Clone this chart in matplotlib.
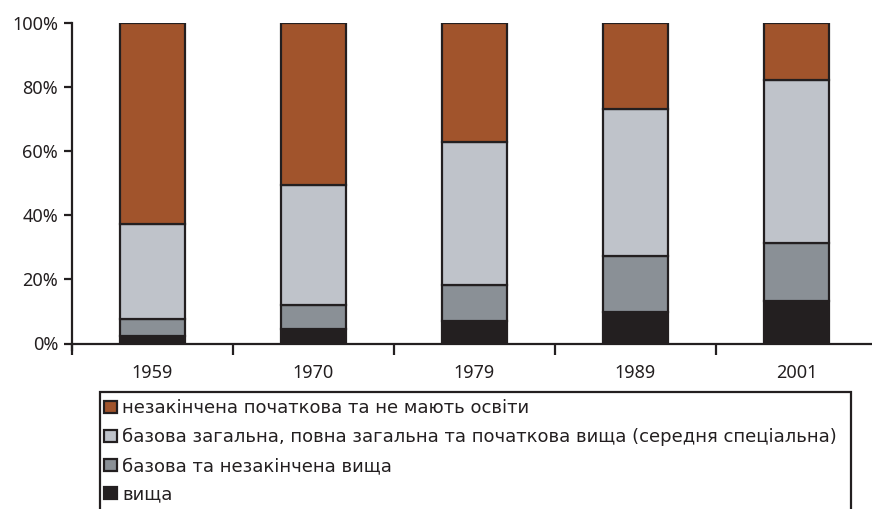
import matplotlib
matplotlib.use("Agg")
import matplotlib.pyplot as plt
import numpy as np
from matplotlib.patches import Rectangle
from matplotlib.ticker import FuncFormatter

plt.rcParams['font.family'] = ['Noto Sans', 'DejaVu Sans']

# Дані (частки, %)
roky = ['1959', '1970', '1979', '1989', '2001']
vyshcha = [2.3, 4.4, 6.9, 9.9, 13.2]
bazova_nezak_vyshcha = [5.4, 7.7, 11.5, 17.5, 18.2]
bazova_zagalna = [29.7, 37.4, 44.6, 45.7, 50.8]
nezak_pochatkova = [62.6, 50.5, 37.0, 26.9, 17.8]

nazvy = ['вища',
         'базова та незакінчена вища',
         'базова загальна, повна загальна та початкова вища (середня спеціальна)',
         'незакінчена початкова та не мають освіти']
kolory = ['#231F20', '#8A9096', '#BFC3CA', '#A1542C']
kraj = '#231F20'

fig = plt.figure(figsize=(8.72, 5.09), dpi=100)
ax = fig.add_axes([72 / 872, 1 - 343.5 / 509, 1 - 72 / 872, 320.5 / 509])

x = np.arange(len(roky))
niz = np.zeros(len(roky))
stovpci = []
for dani, kolir, nazva in zip([vyshcha, bazova_nezak_vyshcha, bazova_zagalna, nezak_pochatkova], kolory, nazvy):
    b = ax.bar(x, dani, 0.4, bottom=niz, color=kolir, edgecolor=kraj, linewidth=1.6, label=nazva, zorder=2)
    stovpci.append(b)
    niz += np.array(dani)

ax.set_xlim(-0.5, -0.5 + 800 / 161)
ax.set_ylim(0, 100)
ax.set_yticks([0, 20, 40, 60, 80, 100])
ax.yaxis.set_major_formatter(FuncFormatter(lambda v, p: f"{v:.0f}%"))
ax.set_xticks(x)
ax.set_xticklabels(roky)
ax.set_xticks(np.arange(-0.5, 4.0, 1.0), minor=True)
ax.tick_params(axis='x', which='major', length=0, pad=15, labelsize=13, labelcolor='#231F20')
ax.tick_params(axis='x', which='minor', length=8, width=1.6, color=kraj)
ax.tick_params(axis='y', length=6, width=1.6, color=kraj, labelsize=13, labelcolor='#231F20', pad=4)

for s in ['top', 'right']:
    ax.spines[s].set_visible(False)
for s in ['left', 'bottom']:
    ax.spines[s].set_linewidth(1.6)
    ax.spines[s].set_color(kraj)
ax.spines['left'].set_bounds(-2, 100)

# Рамка легенди (виходить за нижній край)
fig.patches.append(Rectangle((100 / 872, -0.1), 751 / 872, 1.1 - 392 / 509,
                             transform=fig.transFigure, fill=False, edgecolor=kraj, linewidth=1.6))

handles = stovpci[::-1]
labels = nazvy[::-1]
fig.legend(handles, labels, loc='upper left', bbox_to_anchor=(104 / 872, 1 - 399 / 509),
           frameon=False, prop={'family': 'DejaVu Sans', 'size': 13.0},
           handlelength=0.7, handleheight=0.65, handletextpad=0.3,
           labelspacing=0.6, borderpad=0.0, borderaxespad=0.0, labelcolor='#231F20')

fig.savefig('out.png', dpi=100)
